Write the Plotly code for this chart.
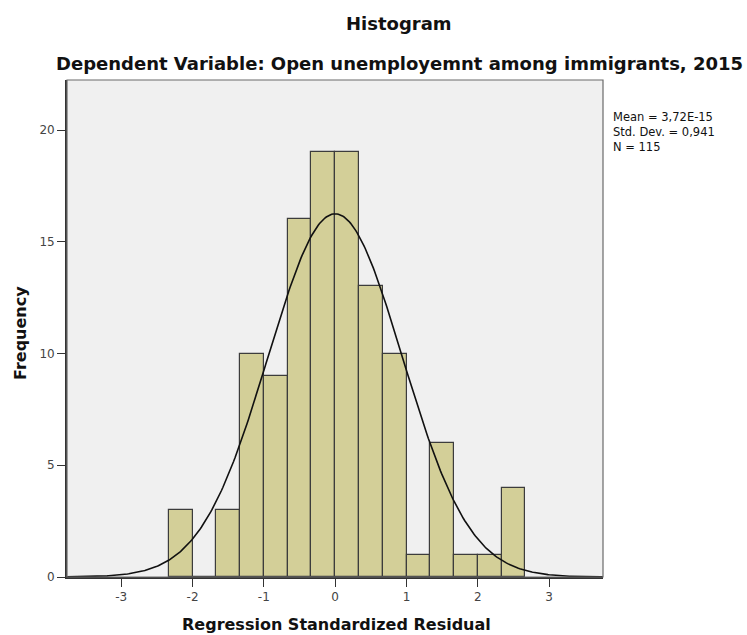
import numpy as np
import plotly.graph_objects as go

# ---- data ----
bin_starts = [-2.3333, -2.0, -1.6667, -1.3333, -1.0, -0.6667, -0.3333, 0.0,
              0.3333, 0.6667, 1.0, 1.3333, 1.6667, 2.0, 2.3333]
counts = [3, 0, 3, 10, 9, 16, 19, 19, 13, 10, 1, 6, 1, 1, 4]
bin_width = 1 / 3
stat_mean = 3.72e-15
stat_sd = 0.941
stat_n = 115
stats_lines = ["Mean = 3,72E-15", "Std. Dev. = 0,941", "N = 115"]
x_ticks = [-3, -2, -1, 0, 1, 2, 3]
y_ticks = [0, 5, 10, 15, 20]

centers = [s + bin_width / 2 for s in bin_starts]

x_range = [-3.76, 3.755]
y_range = [0, 22.24]

# fitted normal curve (from the stated mean / sd / N)
xc = np.linspace(x_range[0], x_range[1], 400)
yc = stat_n * bin_width * np.exp(-0.5 * ((xc - stat_mean) / stat_sd) ** 2) / (stat_sd * np.sqrt(2 * np.pi))

FONT = "DejaVu Sans"

fig = go.Figure()
fig.add_trace(go.Bar(
    x=centers, y=counts, width=bin_width,
    marker=dict(color="#D3CF98", line=dict(color="#3c3c3c", width=1.2)),
    showlegend=False, hoverinfo="skip",
))
fig.add_trace(go.Scatter(
    x=xc, y=yc, mode="lines", line=dict(color="#111111", width=1.6),
    showlegend=False, hoverinfo="skip",
))

fig.update_layout(
    width=747, height=635,
    margin=dict(l=67, r=144, t=80, b=58),
    paper_bgcolor="white",
    plot_bgcolor="#F0F0F0",
    font=dict(family=FONT, size=12, color="#444444"),
    bargap=0,
    showlegend=False,
)

fig.update_xaxes(
    range=x_range, tickvals=x_ticks, ticktext=[str(v) for v in x_ticks],
    ticks="outside", ticklen=8, tickwidth=1.2, tickcolor="#333333",
    showline=True, linecolor="#333333", linewidth=1.5,
    showgrid=False, zeroline=False,
    tickfont=dict(family=FONT, size=12, color="#444444"),
)
fig.update_yaxes(
    range=y_range, tickvals=y_ticks,
    ticks="outside", ticklen=8, tickwidth=1.2, tickcolor="#333333",
    showline=True, linecolor="#333333", linewidth=1.8,
    showgrid=False, zeroline=False,
    tickfont=dict(family=FONT, size=12, color="#444444"),
)

# plot border
fig.add_shape(type="rect", xref="paper", yref="paper", x0=0, x1=1, y0=0, y1=1,
              line=dict(color="#6a6a6a", width=1.2), layer="above")

PW, PH = 536, 497  # plot area size in px (for placing texts)


def px(xp):
    return (xp - 67) / PW


def py(yp):
    return (577 - yp) / PH


fig.add_annotation(text="<b>Histogram</b>", x=px(399), y=py(24), xref="paper", yref="paper",
                   xanchor="center", yanchor="middle", showarrow=False,
                   font=dict(family=FONT, size=18, color="#111111"))
fig.add_annotation(text="<b>Dependent Variable: Open unemployemnt among immigrants, 2015</b>",
                   x=px(399), y=py(63), xref="paper", yref="paper",
                   xanchor="center", yanchor="middle", showarrow=False,
                   font=dict(family=FONT, size=18, color="#111111"))
fig.add_annotation(text="<b>Regression Standardized Residual</b>", x=px(336), y=py(624),
                   xref="paper", yref="paper", xanchor="center", yanchor="middle",
                   showarrow=False, font=dict(family=FONT, size=16, color="#111111"))
fig.add_annotation(text="<b>Frequency</b>", x=px(20), y=py(333), textangle=-90,
                   xref="paper", yref="paper", xanchor="center", yanchor="middle",
                   showarrow=False, font=dict(family=FONT, size=16, color="#111111"))

fig.add_annotation(text="<br>".join(stats_lines), x=px(611), y=py(108), xref="paper", yref="paper",
                   xanchor="left", yanchor="top", align="left", showarrow=False,
                   font=dict(family=FONT, size=11.5, color="#111111"))

fig.write_html("out.html")
